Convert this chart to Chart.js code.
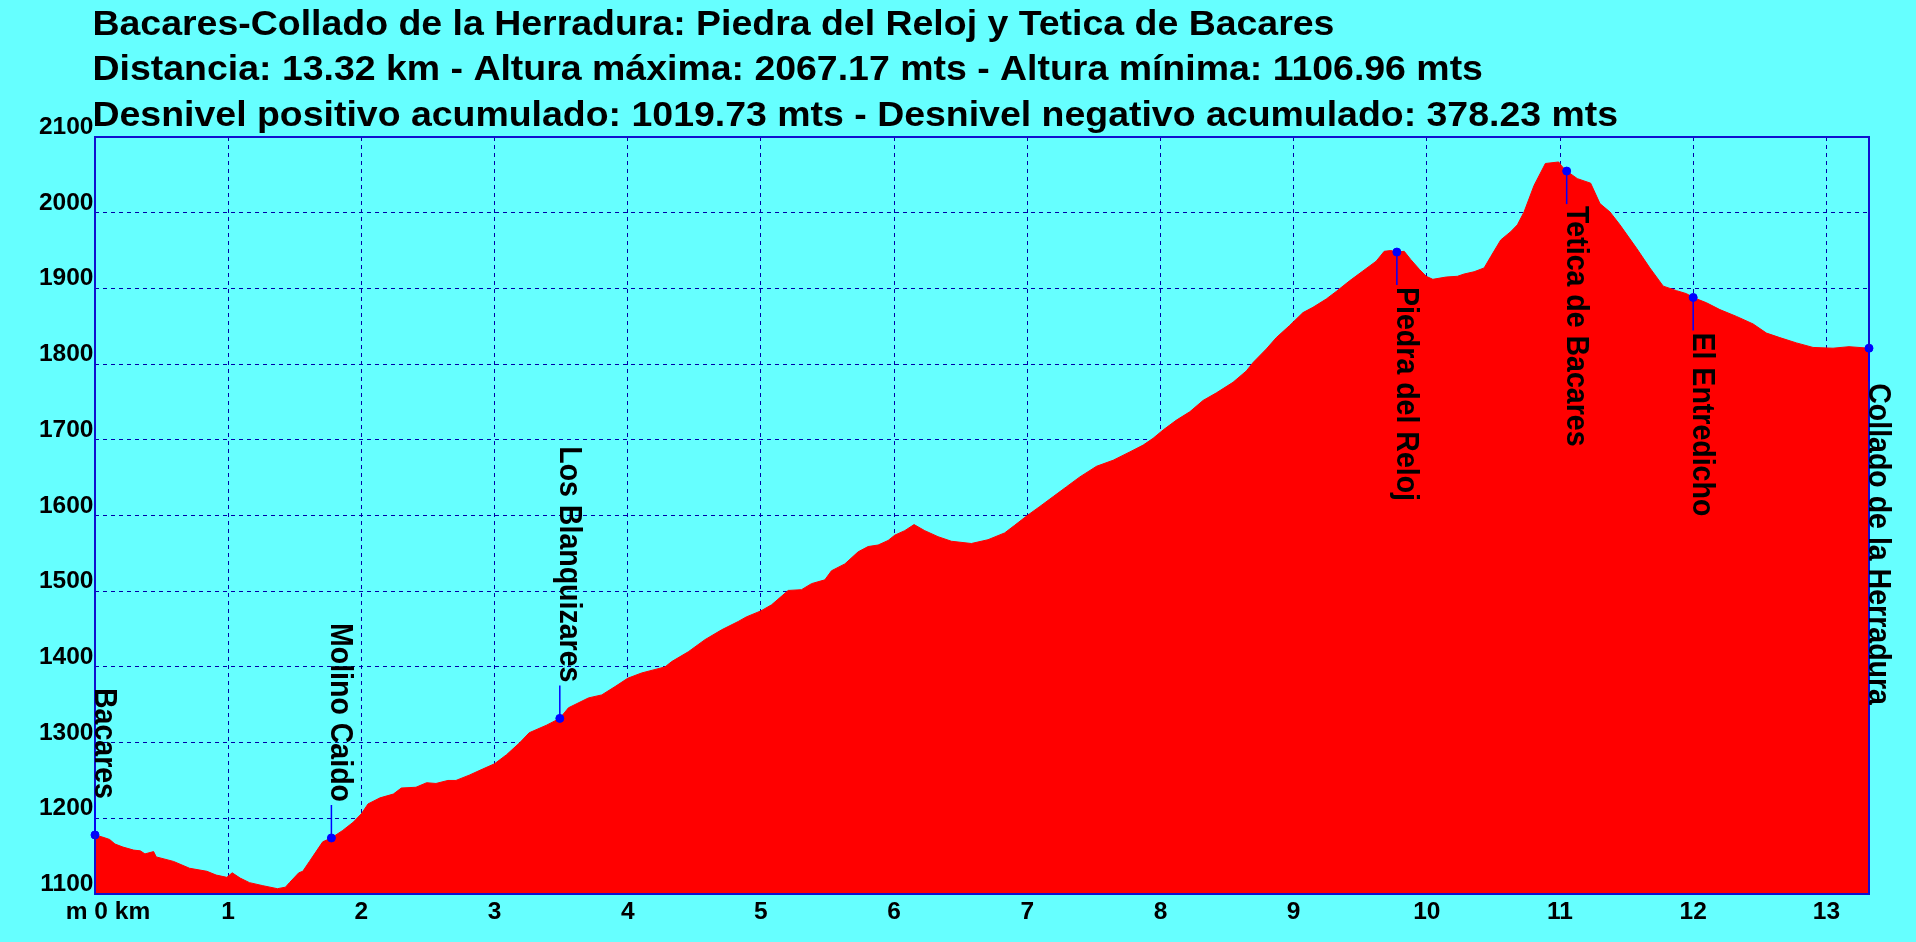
<!DOCTYPE html>
<html>
<head>
<meta charset="utf-8">
<title>Perfil Bacares - Collado de la Herradura</title>
<script src="https://cdn.jsdelivr.net/npm/chart.js@4.4.1/dist/chart.umd.min.js"></script>
<style>
  html, body { margin: 0; padding: 0; background: #66ffff; }
  canvas { display: block; }
</style>
</head>
<body>
<canvas id="perfil" width="1916" height="942"></canvas>
<script>
const titleLines = [
  "Bacares-Collado de la Herradura: Piedra del Reloj y Tetica de Bacares",
  "Distancia: 13.32 km - Altura máxima: 2067.17 mts - Altura mínima: 1106.96 mts",
  "Desnivel positivo acumulado: 1019.73 mts - Desnivel negativo acumulado: 378.23 mts"
];

// perfil: distancia (km) y altura (m)
const distKm = [
  0, 0.06, 0.11, 0.15, 0.21, 0.29, 0.34, 0.375, 0.44, 0.46, 0.59, 0.71, 0.84, 0.91, 0.99,
  1.03, 1.09, 1.16, 1.26, 1.37, 1.43, 1.46, 1.53, 1.56, 1.61, 1.66, 1.71, 1.775, 1.86, 1.94,
  2.0, 2.05, 2.14, 2.24, 2.30, 2.41, 2.49, 2.56, 2.65, 2.71, 2.81, 2.91,
  3.0, 3.09, 3.19, 3.26, 3.39, 3.49, 3.555, 3.705, 3.805, 3.905,
  4.0, 4.105, 4.28, 4.33, 4.455, 4.58, 4.705, 4.83, 4.89,
  5.0, 5.08, 5.205, 5.305, 5.38, 5.48, 5.53, 5.63, 5.73, 5.805, 5.88, 5.955,
  6.005, 6.08, 6.15, 6.23, 6.33, 6.43, 6.58, 6.705, 6.83, 6.905,
  7.0, 7.095, 7.195, 7.295, 7.395, 7.52, 7.645, 7.77, 7.87, 7.945,
  8.02, 8.12, 8.22, 8.32, 8.42, 8.545, 8.645, 8.695, 8.795, 8.87, 8.97,
  9.07, 9.145, 9.245, 9.32, 9.42, 9.52, 9.62, 9.68, 9.73, 9.775, 9.83, 9.88, 9.945, 9.995,
  10.045, 10.145, 10.23, 10.28, 10.355, 10.43, 10.48, 10.555, 10.63, 10.68, 10.73, 10.805, 10.89, 10.99,
  11.015, 11.05, 11.13, 11.23, 11.30, 11.375, 11.45, 11.575, 11.675, 11.775, 11.875, 11.95,
  12.0, 12.1, 12.2, 12.325, 12.45, 12.55, 12.65, 12.775, 12.9,
  13.05, 13.17, 13.32
];
const altura = [
  1178, 1175, 1172, 1166, 1162, 1158, 1157, 1153, 1156, 1149, 1143, 1134, 1130, 1125, 1122,
  1128, 1121, 1115, 1111, 1107, 1109, 1115, 1128, 1130, 1143, 1156, 1169, 1174, 1184, 1195,
  1206, 1219, 1227, 1232, 1240, 1241, 1247, 1246, 1250, 1250, 1257, 1265,
  1272, 1284, 1300, 1313, 1323, 1332, 1346, 1359, 1363, 1374,
  1385, 1392, 1400, 1407, 1420, 1436, 1449, 1460, 1466,
  1474, 1482, 1501, 1502, 1510, 1515, 1527, 1536, 1552, 1559, 1561, 1567,
  1574, 1580, 1588, 1580, 1572, 1566, 1563, 1568, 1577, 1587,
  1600, 1612, 1625, 1638, 1651, 1665, 1673, 1684, 1693, 1702,
  1713, 1726, 1737, 1752, 1762, 1776, 1791, 1802, 1820, 1835, 1851,
  1868, 1875, 1886, 1896, 1910, 1923, 1936, 1949, 1950, 1948, 1949, 1938, 1925, 1916,
  1912, 1915, 1916, 1919, 1922, 1927, 1942, 1964, 1975, 1984, 2001, 2036, 2065, 2067,
  2061, 2055, 2045, 2039, 2012, 2001, 1984, 1953, 1927, 1903, 1897, 1893,
  1888, 1881, 1872, 1863, 1853, 1841, 1835, 1828, 1822,
  1821, 1823, 1821
];

// puntos de paso
const wpNames = ["Bacares", "Molino Caido", "Los Blanquizares", "Piedra del Reloj",
  "Tetica de Bacares", "El Entredicho", "Collado de la Herradura"];
const wpKm = [0, 1.775, 3.49, 9.775, 11.05, 12.0, 13.32];
const wpAlt = [1178, 1174, 1332, 1948, 2055, 1888, 1821];

// ejes
const kmTicks = [0, 1, 2, 3, 4, 5, 6, 7, 8, 9, 10, 11, 12, 13];
const kmLabels = ["m 0 km", "1", "2", "3", "4", "5", "6", "7", "8", "9", "10", "11", "12", "13"];
const altTicks = [1100, 1200, 1300, 1400, 1500, 1600, 1700, 1800, 1900, 2000, 2100];

const FONT = '"Liberation Sans", Arial, sans-serif';
const BG = '#66ffff';
const GRID = '#0000a8';
const BLUE = '#0000ff';

// texto con escala horizontal propia (la fuente del original es mas ancha)
function drawText(c, txt, x, y, sx, align) {
  c.save();
  c.translate(x, y);
  c.scale(sx, 1);
  c.textAlign = align;
  c.fillText(txt, 0, 0);
  c.restore();
}

const decor = {
  id: 'decor',
  beforeDraw(chart) {
    const c = chart.ctx;
    c.save();
    c.fillStyle = BG;
    c.fillRect(0, 0, chart.width, chart.height);
    c.restore();
  },
  afterDraw(chart) {
    const c = chart.ctx;
    const a = chart.chartArea;
    const xs = chart.scales.x, ys = chart.scales.y;

    // marco
    c.save();
    c.strokeStyle = '#1010d0';
    c.lineWidth = 2;
    c.strokeRect(a.left, a.top, a.right - a.left, a.bottom - a.top);
    c.restore();

    c.save();
    c.fillStyle = '#000';
    c.textBaseline = 'alphabetic';

    // titulo
    c.font = 'bold 35px ' + FONT;
    titleLines.forEach((t, i) => drawText(c, t, 92.5, 34.5 + i * 45.7, 1.07, 'left'));

    // etiquetas de los ejes
    c.font = 'bold 24.5px ' + FONT;
    altTicks.forEach(v => {
      drawText(c, String(v), a.left - 1.5, ys.getPixelForValue(v) - 3, 1.0, 'right');
    });
    kmTicks.forEach((v, i) => {
      const shift = i === 0 ? 13 : 0;
      drawText(c, kmLabels[i], xs.getPixelForValue(v) + shift, a.bottom + 24.5, 1.0, 'center');
    });
    c.restore();

    // puntos de paso: linea y nombre vertical
    const mid = (ys.min + ys.max) / 2;
    c.save();
    c.font = 'bold 31px ' + FONT;
    c.fillStyle = '#000';
    c.strokeStyle = BLUE;
    c.lineWidth = 1.5;
    wpNames.forEach((name, i) => {
      const px = xs.getPixelForValue(wpKm[i]);
      const py = ys.getPixelForValue(wpAlt[i]);
      const below = wpAlt[i] > mid;
      const end = below ? py + 33 : py - 33;
      c.beginPath();
      c.moveTo(px, py);
      c.lineTo(px, end);
      c.stroke();
      c.save();
      c.translate(px, below ? end + 2 : end - 3);
      c.rotate(Math.PI / 2);
      c.scale(0.92, 1);
      c.textAlign = below ? 'left' : 'right';
      c.textBaseline = 'alphabetic';
      c.fillText(name, 0, 0);
      c.restore();
    });
    c.restore();
  }
};

new Chart(document.getElementById('perfil'), {
  type: 'line',
  data: {
    datasets: [
      {
        data: wpKm.map((k, i) => ({ x: k, y: wpAlt[i] })),
        showLine: false,
        pointRadius: 4,
        pointBackgroundColor: BLUE,
        pointBorderColor: BLUE,
        clip: false,
        order: 1
      },
      {
        data: distKm.map((k, i) => ({ x: k, y: altura[i] })),
        fill: 'start',
        backgroundColor: '#ff0000',
        borderColor: '#ff0000',
        borderWidth: 1,
        pointRadius: 0,
        tension: 0,
        order: 2
      }
    ]
  },
  options: {
    responsive: false,
    animation: false,
    devicePixelRatio: 1,
    layout: { padding: { top: 137, right: 47, left: 0, bottom: 0 } },
    plugins: {
      legend: { display: false },
      tooltip: { enabled: false },
      title: { display: false }
    },
    scales: {
      x: {
        type: 'linear',
        min: 0,
        max: 13.32,
        z: 1,
        afterBuildTicks: axis => { axis.ticks = kmTicks.map(v => ({ value: v })); },
        afterFit: axis => { axis.height = 48; },
        ticks: { display: false },
        grid: { color: GRID, lineWidth: 1, drawTicks: false },
        border: { display: false, dash: [4, 4] }
      },
      y: {
        type: 'linear',
        min: 1100,
        max: 2100,
        z: 1,
        afterBuildTicks: axis => { axis.ticks = altTicks.map(v => ({ value: v })); },
        afterFit: axis => { axis.width = 95; },
        ticks: { display: false },
        grid: { color: GRID, lineWidth: 1, drawTicks: false },
        border: { display: false, dash: [4, 4] }
      }
    }
  },
  plugins: [decor]
});
</script>
</body>
</html>
